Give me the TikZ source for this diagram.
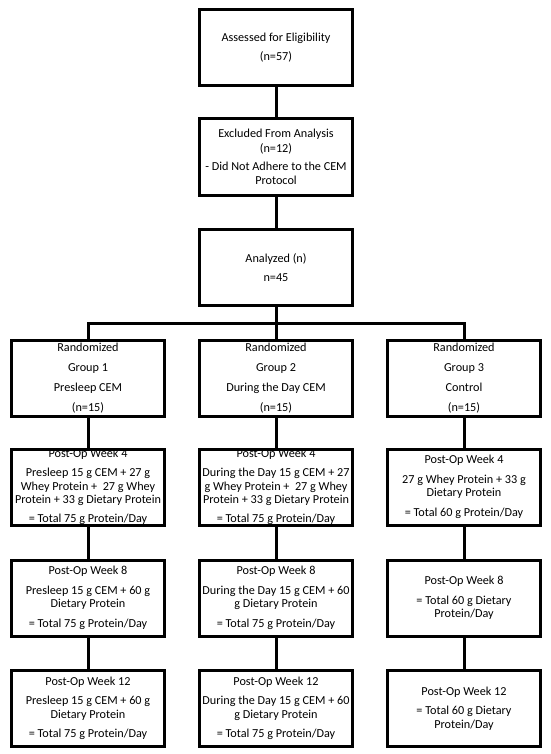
\documentclass[tikz,border=0pt]{standalone}
\usepackage{fontspec}
\setmainfont{Carlito}
\begin{document}
\begin{tikzpicture}[x=1pt,y=-1pt,
  box/.style={draw=black,line width=3pt,rectangle,minimum width=153pt,minimum height=76pt,
    inner sep=0pt,align=center,font=\fontsize{12.2}{13.5}\selectfont},
  conn/.style={draw=black,line width=3pt}]
\useasboundingbox (0,0) rectangle (550,754);
\fill[white] (0,0) rectangle (550,754);
\node[box] (assess) at (276,47.5) {Assessed for Eligibility\\[5.5pt](n=57)};
\node[box] (excl) at (276,157) {Excluded From Analysis\\[1pt](n=12)\\[5pt]- Did Not Adhere to the CEM\\Protocol};
\node[box] (anal) at (276,267.5) {Analyzed (n)\\[5pt]n=45};
\node[box] (g1) at (88,378) {Randomized\\[6.5pt]Group 1\\[6.5pt]Presleep CEM\\[6.5pt](n=15)};
\node[box] (g2) at (276,378) {Randomized\\[6.5pt]Group 2\\[6.5pt]During the Day CEM\\[6.5pt](n=15)};
\node[box] (g3) at (464,378) {Randomized\\[6.5pt]Group 3\\[6.5pt]Control\\[6.5pt](n=15)};
\node[box] (w4a) at (88,487) {Post-Op Week 4\\[5.5pt]Presleep 15 g CEM + 27 g\\Whey Protein +\ \ 27 g Whey\\Protein + 33 g Dietary Protein\\[5.5pt]= Total 75 g Protein/Day};
\node[box] (w4b) at (276,487) {Post-Op Week 4\\[5.5pt]During the Day 15 g CEM + 27\\g Whey Protein +\ \ 27 g Whey\\Protein + 33 g Dietary Protein\\[5.5pt]= Total 75 g Protein/Day};
\node[box] (w4c) at (464,487) {Post-Op Week 4\\[6pt]27 g Whey Protein + 33 g\\Dietary Protein\\[6pt]= Total 60 g Protein/Day};
\node[box] (w8a) at (88,598) {Post-Op Week 8\\[6pt]Presleep 15 g CEM + 60 g\\Dietary Protein\\[6pt]= Total 75 g Protein/Day};
\node[box] (w8b) at (276,598) {Post-Op Week 8\\[6pt]During the Day 15 g CEM + 60\\g Dietary Protein\\[6pt]= Total 75 g Protein/Day};
\node[box] (w8c) at (464,598) {Post-Op Week 8\\[6pt]= Total 60 g Dietary\\Protein/Day};
\node[box] (w12a) at (88,708.5) {Post-Op Week 12\\[6pt]Presleep 15 g CEM + 60 g\\Dietary Protein\\[6pt]= Total 75 g Protein/Day};
\node[box] (w12b) at (276,708.5) {Post-Op Week 12\\[6pt]During the Day 15 g CEM + 60\\g Dietary Protein\\[6pt]= Total 75 g Protein/Day};
\node[box] (w12c) at (464,708.5) {Post-Op Week 12\\[6pt]= Total 60 g Dietary\\Protein/Day};
\coordinate (hub) at (276,323);
\draw[conn] (assess) -- (excl);
\draw[conn] (excl) -- (anal);
\draw[conn] (anal) -- (g2);
\draw[conn] (g1.north) |- (hub) -| (g3.north);
\foreach \c in {a,b,c}{
  \draw[conn] (w4\c) -- (w8\c);
  \draw[conn] (w8\c) -- (w12\c);
}
\draw[conn] (g1) -- (w4a);
\draw[conn] (g2) -- (w4b);
\draw[conn] (g3) -- (w4c);
\end{tikzpicture}
\end{document}
